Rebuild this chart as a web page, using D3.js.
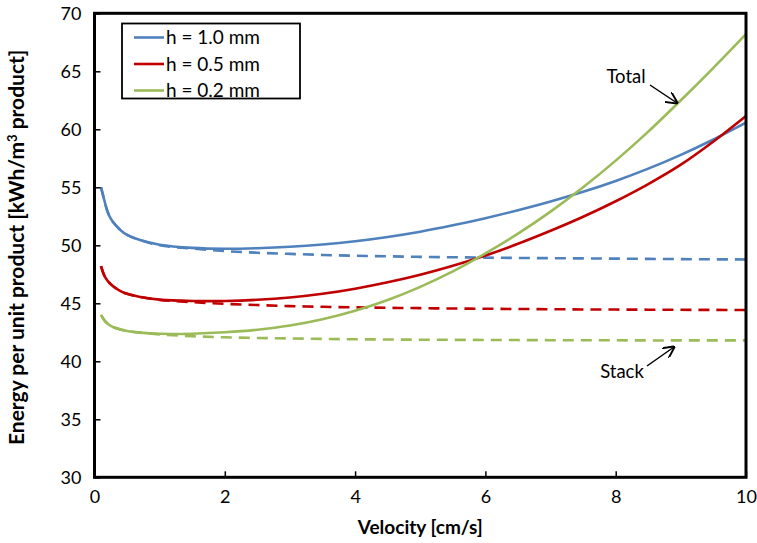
<!DOCTYPE html>
<html>
<head>
<meta charset="utf-8">
<script src="https://cdn.jsdelivr.net/npm/d3@7"></script>
<style>
html,body{margin:0;padding:0;background:#fff;}
svg text{font-family:"Lato","Open Sans",sans-serif;}
</style>
</head>
<body>
<svg id="chart" width="757" height="543"></svg>
<script>
// ---- data ----
const velocity = [0.1,0.15,0.2,0.25,0.3,0.4,0.5,0.7,1,1.5,2,2.5,3,3.5,4,4.5,5,5.5,6,6.5,7,7.5,8,8.5,9,9.5,10];
const totalH10 = [55.0,53.9,52.9,52.3,51.9,51.3,50.9,50.45,50.05,49.78,49.7,49.75,49.87,50.07,50.35,50.72,51.17,51.72,52.34,53.02,53.77,54.61,55.55,56.61,57.8,59.12,60.57];
const totalH05 = [48.2,47.4,46.95,46.65,46.4,46.05,45.82,45.55,45.32,45.2,45.2,45.3,45.5,45.82,46.26,46.81,47.46,48.23,49.12,50.13,51.25,52.46,53.8,55.28,56.95,58.95,61.15];
const totalH02 = [44.0,43.55,43.25,43.05,42.92,42.75,42.62,42.47,42.37,42.38,42.5,42.72,43.08,43.62,44.35,45.28,46.42,47.75,49.3,51.0,52.9,55.0,57.3,59.8,62.5,65.3,68.2];
const stackH10 = [55.0,53.9,52.9,52.3,51.9,51.3,50.9,50.45,50.0,49.72,49.5,49.36,49.26,49.17,49.1,49.05,49.0,48.97,48.94,48.91,48.89,48.87,48.85,48.83,48.81,48.79,48.78];
const stackH05 = [48.2,47.4,46.95,46.65,46.4,46.05,45.82,45.55,45.29,45.1,44.95,44.85,44.76,44.7,44.65,44.61,44.58,44.55,44.53,44.51,44.49,44.47,44.46,44.45,44.44,44.43,44.42];
const stackH02 = [44.0,43.55,43.25,43.05,42.92,42.75,42.62,42.47,42.32,42.16,42.07,42.01,41.97,41.93,41.9,41.88,41.86,41.85,41.84,41.83,41.82,41.81,41.81,41.8,41.8,41.8,41.8];
const seriesNames = ["h = 1.0 mm","h = 0.5 mm","h = 0.2 mm"];
const seriesColors = ["#4F81BD","#C00000","#9BBB59"];
const xTicks = [0,2,4,6,8,10];
const yTicks = [30,35,40,45,50,55,60,65,70];

// ---- layout ----
const svg = d3.select("#chart");
const L = 94.5, R = 746, T = 13.3, B = 477.3;
const x = d3.scaleLinear().domain([0,10]).range([L,R]);
const y = d3.scaleLinear().domain([30,70]).range([B,T]);

const g = svg.append("g");

const totals = [totalH10,totalH05,totalH02];
const stacks = [stackH10,stackH05,stackH02];
const line = d3.line().x(d=>x(d[0])).y(d=>y(d[1])).curve(d3.curveCatmullRom.alpha(0.5));

stacks.forEach((s,i)=>{
  g.append("path").datum(velocity.map((v,j)=>[v,s[j]]))
   .attr("d",line).attr("fill","none").attr("stroke",seriesColors[i])
   .attr("stroke-width",2.6).attr("stroke-dasharray","11,7");
});
totals.forEach((s,i)=>{
  g.append("path").datum(velocity.map((v,j)=>[v,s[j]]))
   .attr("d",line).attr("fill","none").attr("stroke",seriesColors[i])
   .attr("stroke-width",2.6);
});

// axes
const xAxis = d3.axisBottom(x).tickValues(xTicks).tickSizeInner(-6).tickSizeOuter(0).tickPadding(13).tickFormat(d3.format("d"));
const yAxis = d3.axisLeft(y).tickValues(yTicks).tickSizeInner(-6).tickSizeOuter(0).tickPadding(13).tickFormat(d3.format("d"));
const gx = svg.append("g").attr("transform",`translate(0,${B})`).call(xAxis);
const gy = svg.append("g").attr("transform",`translate(${L},0)`).call(yAxis);
[gx,gy].forEach(a=>{
  a.select(".domain").remove();
  a.selectAll(".tick line").attr("stroke","#000").attr("stroke-width",1.5);
  a.selectAll(".tick text").attr("font-size",18).attr("fill","#000").style("font-family","Lato, 'Open Sans', sans-serif");
});

// frame
svg.append("rect").attr("x",L).attr("y",T).attr("width",R-L).attr("height",B-T)
  .attr("fill","none").attr("stroke","#000").attr("stroke-width",3);

// axis titles
svg.append("text").attr("x",(L+R)/2).attr("y",534).attr("text-anchor","middle")
  .attr("font-size",19).attr("font-weight","bold").text("Velocity [cm/s]");
const yt = svg.append("text").attr("transform",`translate(24,${(T+B)/2 + 2}) rotate(-90)`)
  .attr("text-anchor","middle").attr("font-size",21).attr("font-weight","bold");
yt.append("tspan").text("Energy per unit product [kWh/m");
yt.append("tspan").attr("dy",-7).attr("font-size",13).text("3");
yt.append("tspan").attr("dy",7).text(" product]");

// legend
const lg = svg.append("g");
lg.append("rect").attr("x",122).attr("y",23.5).attr("width",178).attr("height",75)
  .attr("fill","#fff").attr("stroke","#000").attr("stroke-width",1.8);
seriesNames.forEach((n,i)=>{
  const yy = 37.5 + i*26.5;
  lg.append("line").attr("x1",134).attr("x2",164).attr("y1",yy).attr("y2",yy)
    .attr("stroke",seriesColors[i]).attr("stroke-width",2.6);
  lg.append("text").attr("x",166).attr("y",yy+6.5).attr("font-size",19).text(n);
});

// annotations
const defs = svg.append("defs");
defs.append("marker").attr("id","arr").attr("viewBox","0 0 10 10").attr("refX",9).attr("refY",5)
  .attr("markerWidth",8).attr("markerHeight",8).attr("orient","auto")
  .append("path").attr("d","M0,0 L10,5 L0,10").attr("fill","none").attr("stroke","#000").attr("stroke-width",1.6);
svg.append("text").attr("x",626).attr("y",83).attr("text-anchor","middle").attr("font-size",18.5).text("Total");
svg.append("line").attr("x1",650).attr("y1",85).attr("x2",677).attr("y2",103)
  .attr("stroke","#000").attr("stroke-width",1.5).attr("marker-end","url(#arr)");
svg.append("text").attr("x",622).attr("y",378).attr("text-anchor","middle").attr("font-size",18.5).text("Stack");
svg.append("line").attr("x1",647).attr("y1",366).attr("x2",674).attr("y2",347)
  .attr("stroke","#000").attr("stroke-width",1.5).attr("marker-end","url(#arr)");
</script>
</body>
</html>
